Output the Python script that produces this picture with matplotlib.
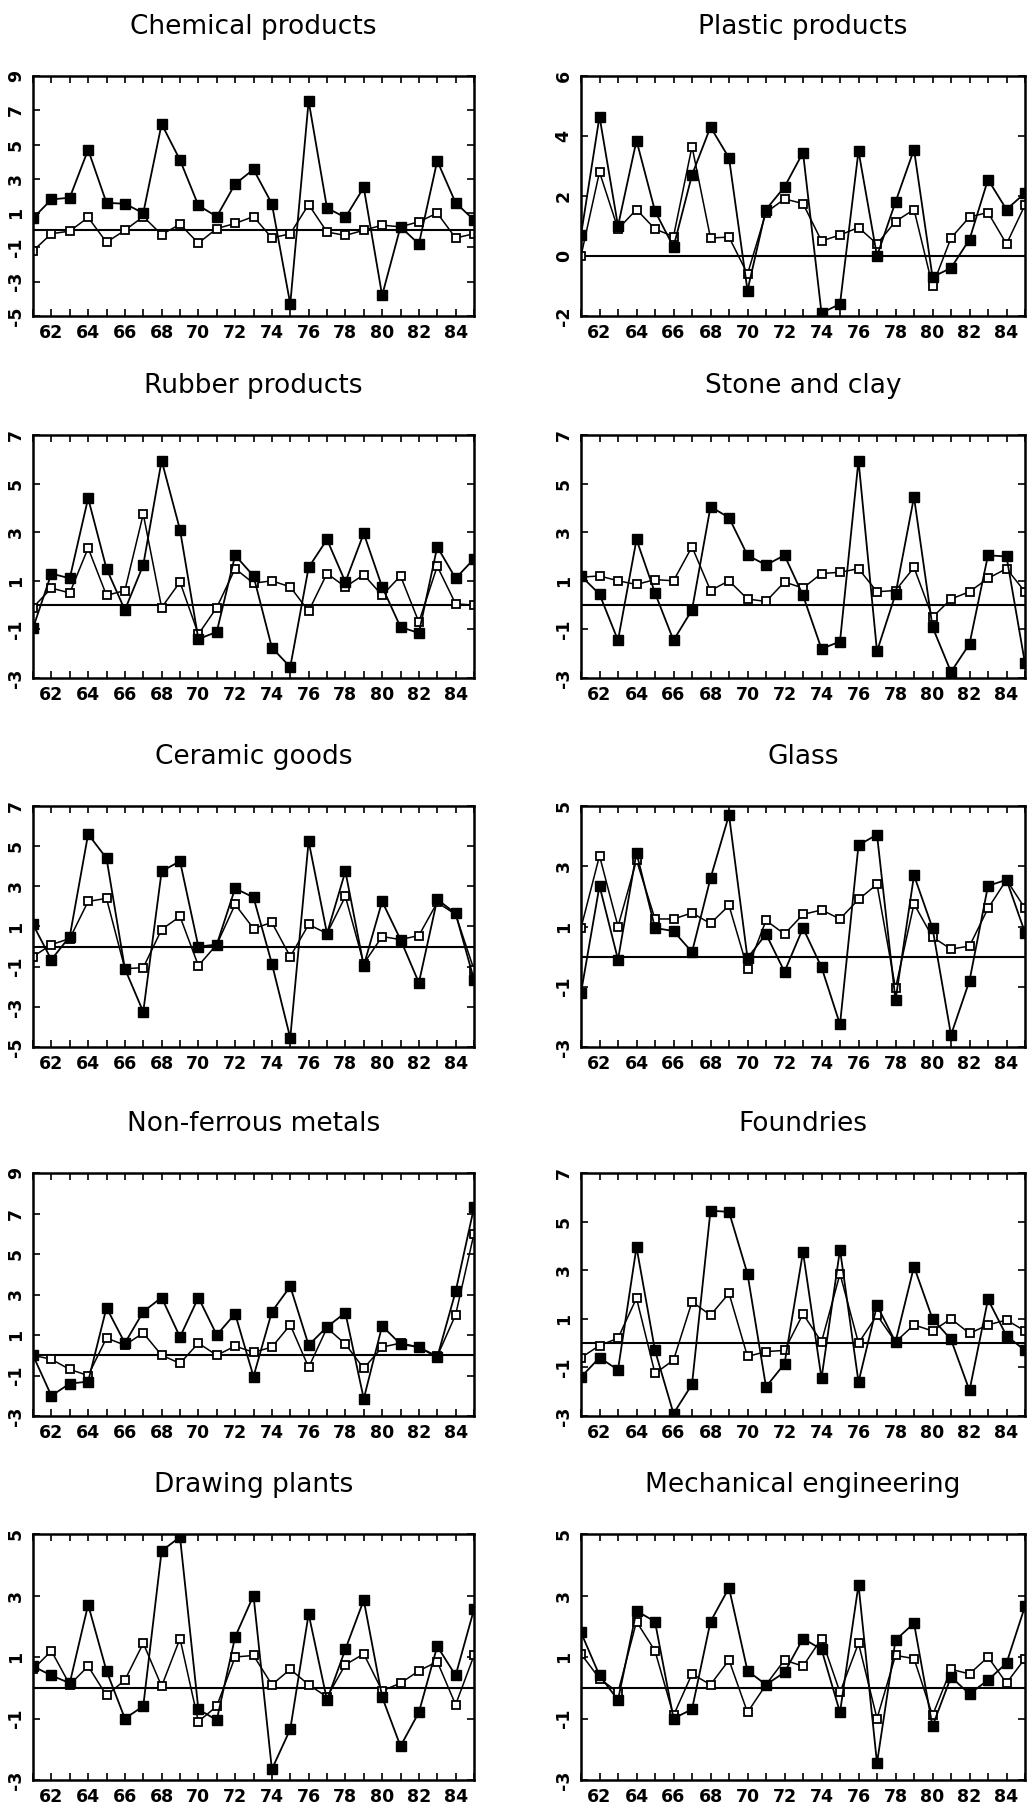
import matplotlib
matplotlib.use("Agg")
import matplotlib.pyplot as plt
import numpy as np

years = np.arange(1961, 1986)

titles = ["Chemical products", "Plastic products",
          "Rubber products", "Stone and clay",
          "Ceramic goods", "Glass",
          "Non-ferrous metals", "Foundries",
          "Drawing plants", "Mechanical engineering"]

# y-axis range (bottom, top) of each panel; ticks every 2 units from bottom
ylims = [(-5, 9), (-2, 6), (-3, 7), (-3, 7), (-5, 7),
         (-3, 5), (-3, 9), (-3, 7), (-3, 5), (-3, 5)]

# filled squares
chem_a = [0.7, 1.8, 1.9, 4.7, 1.6, 1.55, 1.0, 6.2, 4.1, 1.45, 0.8, 2.7, 3.55,
          1.55, -4.3, 7.55, 1.3, 0.75, 2.5, -3.8, 0.2, -0.8, 4.05, 1.6, 0.6]
plas_a = [0.7, 4.65, 1.0, 3.85, 1.5, 0.3, 2.7, 4.3, 3.27, -1.15, 1.55, 2.3, 3.45,
          -1.9, -1.6, 3.5, 0.0, 1.8, 3.55, -0.7, -0.4, 0.55, 2.55, 1.55, 2.1]
rubb_a = [-0.95, 1.3, 1.1, 4.4, 1.5, -0.2, 1.65, 5.95, 3.1, -1.4, -1.1, 2.05, 1.2,
          -1.75, -2.55, 1.55, 2.7, 0.95, 2.95, 0.75, -0.9, -1.15, 2.4, 1.1, 1.9]
ston_a = [1.2, 0.45, -1.45, 2.7, 0.5, -1.45, -0.2, 4.05, 3.6, 2.05, 1.65, 2.05, 0.4,
          -1.8, -1.5, 5.95, -1.9, 0.45, 4.45, -0.9, -2.75, -1.6, 2.05, 2.0, -2.4]
cera_a = [1.1, -0.65, 0.5, 5.6, 4.4, -1.1, -3.25, 3.75, 4.25, 0.0, 0.1, 2.9, 2.45,
          -0.85, -4.55, 5.25, 0.65, 3.75, -0.95, 2.25, 0.35, -1.8, 2.35, 1.65, -1.65]
glas_a = [-1.2, 2.35, -0.1, 3.45, 0.95, 0.85, 0.15, 2.6, 4.7, -0.05, 0.75, -0.5, 0.95,
          -0.35, -2.25, 3.7, 4.05, -1.45, 2.7, 0.95, -2.6, -0.8, 2.35, 2.55, 0.8]
nonf_a = [0.0, -2.0, -1.4, -1.3, 2.35, 0.6, 2.15, 2.85, 0.9, 2.85, 1.0, 2.05, -1.05,
          2.15, 3.4, 0.5, 1.4, 2.1, -2.15, 1.45, 0.55, 0.4, -0.1, 3.15, 7.3]
foun_a = [-1.4, -0.6, -1.1, 3.95, -0.3, -2.9, -1.7, 5.45, 5.4, 2.85, -1.8, -0.85, 3.75,
          -1.45, 3.85, -1.6, 1.55, 0.05, 3.15, 1.0, 0.15, -1.95, 1.8, 0.3, -0.3]
draw_a = [0.7, 0.4, 0.15, 2.7, 0.55, -1.0, -0.6, 4.45, 4.9, -0.7, -1.05, 1.65, 3.0,
          -2.65, -1.35, 2.4, -0.4, 1.25, 2.85, -0.3, -1.9, -0.8, 1.35, 0.4, 2.55]
mech_a = [1.8, 0.4, -0.4, 2.5, 2.15, -1.0, -0.7, 2.15, 3.25, 0.55, 0.1, 0.5, 1.6,
          1.25, -0.8, 3.35, -2.45, 1.55, 2.1, -1.25, 0.35, -0.2, 0.25, 0.8, 2.65]

# open squares
chem_b = [-1.2, -0.2, -0.05, 0.75, -0.7, 0.0, 0.8, -0.25, 0.35, -0.75, 0.1, 0.4, 0.8,
          -0.45, -0.2, 1.5, -0.1, -0.3, 0.0, 0.3, 0.2, 0.5, 1.0, -0.45, -0.2]
plas_b = [0.0, 2.8, 0.9, 1.55, 0.9, 0.65, 3.65, 0.6, 0.63, -0.6, 1.45, 1.9, 1.75,
          0.5, 0.7, 0.95, 0.4, 1.15, 1.55, -1.0, 0.6, 1.3, 1.45, 0.4, 1.7]
rubb_b = [-0.1, 0.7, 0.5, 2.35, 0.4, 0.6, 3.75, -0.1, 0.95, -1.2, -0.1, 1.5, 0.9,
          1.0, 0.75, -0.25, 1.3, 0.75, 1.25, 0.4, 1.2, -0.7, 1.6, 0.05, 0.0]
ston_b = [1.15, 1.2, 1.0, 0.85, 1.05, 1.0, 2.4, 0.6, 1.0, 0.25, 0.15, 0.95, 0.7,
          1.3, 1.35, 1.5, 0.55, 0.6, 1.55, -0.5, 0.25, 0.55, 1.1, 1.5, 0.55]
cera_b = [-0.5, 0.1, 0.4, 2.25, 2.4, -1.1, -1.05, 0.85, 1.5, -0.95, 0.1, 2.1, 0.9,
          1.2, -0.5, 1.1, 0.65, 2.5, -0.85, 0.5, 0.35, 0.55, 2.2, 1.6, -1.15]
glas_b = [0.95, 3.35, 1.0, 3.2, 1.25, 1.25, 1.45, 1.1, 1.7, -0.4, 1.2, 0.75, 1.4,
          1.55, 1.25, 1.9, 2.4, -1.05, 1.75, 0.65, 0.25, 0.35, 1.6, 2.55, 1.6]
nonf_b = [0.0, -0.2, -0.7, -1.0, 0.85, 0.5, 1.1, 0.0, -0.4, 0.6, 0.0, 0.45, 0.15,
          0.4, 1.5, -0.6, 1.35, 0.55, -0.65, 0.4, 0.6, 0.4, -0.05, 2.0, 6.0]
foun_b = [-0.6, -0.1, 0.2, 1.85, -1.25, -0.7, 1.7, 1.15, 2.05, -0.55, -0.35, -0.3, 1.2,
          0.05, 2.85, 0.0, 1.15, 0.05, 0.75, 0.5, 1.0, 0.4, 0.75, 0.95, 0.5]
draw_b = [0.6, 1.2, 0.1, 0.7, -0.25, 0.25, 1.45, 0.05, 1.6, -1.1, -0.6, 1.0, 1.05,
          0.1, 0.6, 0.1, -0.3, 0.75, 1.1, -0.1, 0.15, 0.55, 0.85, -0.55, 1.05]
mech_b = [1.1, 0.3, -0.15, 2.15, 1.2, -0.9, 0.45, 0.1, 0.9, -0.8, 0.1, 0.9, 0.7,
          1.6, -0.15, 1.45, -1.0, 1.05, 0.95, -0.9, 0.6, 0.45, 1.0, 0.15, 0.95]

series_a = [chem_a, plas_a, rubb_a, ston_a, cera_a, glas_a, nonf_a, foun_a, draw_a, mech_a]
series_b = [chem_b, plas_b, rubb_b, ston_b, cera_b, glas_b, nonf_b, foun_b, draw_b, mech_b]

W, H = 1035, 1812
fig = plt.figure(figsize=(W / 100, H / 100), dpi=100)

col_x = [(33, 474), (581, 1025)]
row_y = [(76, 316), (435, 678), (806, 1047), (1173, 1416), (1534, 1780)]

xlabels = [str(y % 100) if y % 2 == 0 else "" for y in years]

for i in range(10):
    r, c = divmod(i, 2)
    x0, x1 = col_x[c]
    y0, y1 = row_y[r]
    ax = fig.add_axes([x0 / W, 1 - y1 / H, (x1 - x0) / W, (y1 - y0) / H])

    ax.axhline(0, color="black", lw=1.5, zorder=1)
    ax.plot(years, series_b[i], color="black", lw=1.1, marker="s", ms=6,
            mfc="white", mec="black", mew=1.3, zorder=2)
    ax.plot(years, series_a[i], color="black", lw=1.3, marker="s", ms=7,
            mfc="black", mec="black", zorder=3)

    lo, hi = ylims[i]
    ax.set_xlim(1961, 1985)
    ax.set_ylim(lo, hi)
    ax.set_xticks(years)
    ax.set_xticklabels(xlabels)
    ax.set_yticks(np.arange(lo, hi + 1, 2))
    ax.set_yticklabels([str(v) for v in range(lo, hi + 1, 2)],
                       rotation=90, va="center")
    ax.tick_params(direction="in", length=5, width=1.2, top=True, right=True,
                   labelsize=12.5, pad=6)
    for lab in ax.get_xticklabels() + ax.get_yticklabels():
        lab.set_fontweight("bold")
    for sp in ax.spines.values():
        sp.set_linewidth(1.8)
    ax.set_title(titles[i], fontsize=19, pad=30)

fig.savefig("out.png", dpi=100)
